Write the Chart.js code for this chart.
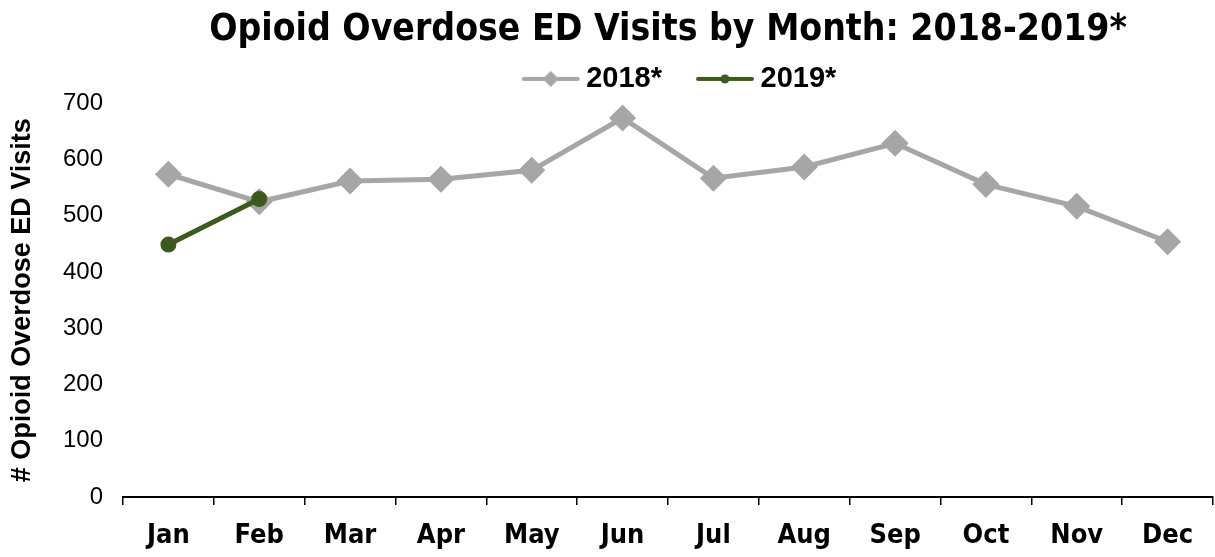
<!DOCTYPE html>
<html>
<head>
<meta charset="utf-8">
<script src="https://cdn.jsdelivr.net/npm/chart.js@4/dist/chart.umd.min.js"></script>
<style>
  html, body { margin: 0; padding: 0; background: #fff; }
  #wrap { width: 1215px; height: 557px; }
</style>
</head>
<body>
<div id="wrap"><canvas id="chart" width="1215" height="557"></canvas></div>
<script>
const months = ['Jan', 'Feb', 'Mar', 'Apr', 'May', 'Jun', 'Jul', 'Aug', 'Sep', 'Oct', 'Nov', 'Dec'];
const visits2018 = [574, 525, 562, 565, 581, 674, 567, 587, 629, 556, 517, 454];
const visits2019 = [449, 530];
const yTicks = [0, 100, 200, 300, 400, 500, 600, 700];

const GRAY = '#A6A6A6';
const GREEN = '#3D5A1E';
const NARROW = '"DejaVu Sans Condensed", "Liberation Sans Narrow", sans-serif';
const ARIAL = '"Liberation Sans", Arial, sans-serif';

// legend swatch: short line with the series marker on it.
// the image is wider than the legend box so the line runs close to the text
function swatch(color, width, marker) {
    const c = document.createElement('canvas');
    c.width = 92; c.height = 22;
    const ctx = c.getContext('2d');
    ctx.strokeStyle = color;
    ctx.lineWidth = width;
    ctx.lineCap = 'round';
    ctx.beginPath(); ctx.moveTo(34, 11); ctx.lineTo(88, 11); ctx.stroke();
    ctx.fillStyle = color;
    ctx.beginPath();
    if (marker === 'diamond') {
        ctx.moveTo(61, 3); ctx.lineTo(69, 11); ctx.lineTo(61, 19); ctx.lineTo(53, 11);
    } else {
        ctx.arc(61, 11, 4.5, 0, Math.PI * 2);
    }
    ctx.fill();
    return c;
}
const swatches = [swatch(GRAY, 4, 'diamond'), swatch(GREEN, 4, 'circle')];

new Chart(document.getElementById('chart'), {
    type: 'line',
    data: {
        labels: months,
        datasets: [
            { label: '2018*', data: visits2018, borderColor: GRAY, backgroundColor: GRAY, borderWidth: 5,
              pointStyle: 'rectRot', pointRadius: 10, pointHoverRadius: 10, tension: 0, order: 1 },
            { label: '2019*', data: visits2019, borderColor: GREEN, backgroundColor: GREEN, borderWidth: 5,
              borderCapStyle: 'round', pointStyle: 'circle', pointRadius: 5.5, pointHoverRadius: 5.5,
              tension: 0, order: 0 }
        ]
    },
    options: {
        responsive: false,
        animation: false,
        layout: { autoPadding: false, padding: { left: 6, right: 2, top: 4, bottom: 0 } },
        plugins: {
            title: {
                display: true,
                text: 'Opioid Overdose ED Visits by Month: 2018-2019*',
                color: '#000',
                fullSize: false,
                font: { family: NARROW, size: 37, weight: 'bold' },
                padding: { top: 4, bottom: 0 }
            },
            legend: {
                fullSize: false,
                labels: {
                    color: '#000',
                    font: { family: ARIAL, size: 29, weight: 'bold' },
                    usePointStyle: true,
                    pointStyleWidth: 72,
                    boxHeight: 20,
                    padding: 12,
                    generateLabels: chart => chart.data.datasets.map((ds, i) => ({
                        text: ds.label,
                        pointStyle: swatches[i],
                        fillStyle: ds.borderColor,
                        strokeStyle: ds.borderColor,
                        lineWidth: 0,
                        datasetIndex: i,
                        fontColor: '#000'
                    }))
                }
            },
            tooltip: { enabled: false }
        },
        scales: {
            x: {
                offset: true,
                afterFit: axis => { axis.height = 60; },
                grid: { offset: true, drawOnChartArea: false, tickLength: 8, color: '#000', lineWidth: 1.5 },
                border: { color: '#000', width: 2 },
                ticks: { color: '#000', font: { family: NARROW, size: 27, weight: 'bold' }, padding: 15, maxRotation: 0 }
            },
            y: {
                min: 0,
                max: 700,
                afterBuildTicks: axis => { axis.ticks = yTicks.map(v => ({ value: v })); },
                afterFit: axis => { axis.width = 117; },
                grid: { display: false },
                border: { display: false },
                title: {
                    display: true,
                    text: '# Opioid Overdose ED Visits',
                    color: '#000',
                    font: { family: ARIAL, size: 27, weight: 'bold' },
                    padding: { top: 0, bottom: 0 }
                },
                ticks: { color: '#000', font: { family: ARIAL, size: 24 }, padding: 12 }
            }
        }
    }
});
</script>
</body>
</html>
